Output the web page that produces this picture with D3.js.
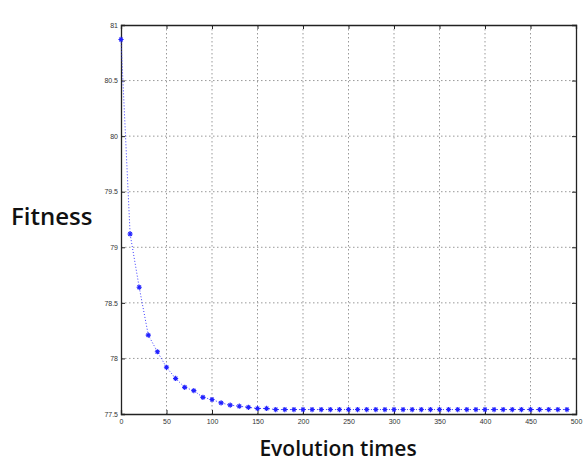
<!DOCTYPE html>
<html>
<head>
<meta charset="utf-8">
<script src="https://cdn.jsdelivr.net/npm/d3@7"></script>
<style>
  html, body { margin: 0; padding: 0; background: #fff; }
  svg { display: block; }
</style>
</head>
<body>
<svg id="chart" width="583" height="461"></svg>
<script>
// ---- data ----
const generations = [0,10,20,30,40,50,60,70,80,90,100,110,120,130,140,150,160,170,180,190,
  200,210,220,230,240,250,260,270,280,290,300,310,320,330,340,350,360,370,380,390,
  400,410,420,430,440,450,460,470,480,490];
const fitness = [80.87,79.12,78.64,78.21,78.06,77.92,77.82,77.74,77.71,77.65,77.63,77.60,77.58,77.57,77.56,
  77.55,77.55,77.54,77.54,77.54,77.54,77.54,77.54,77.54,77.54,77.54,77.54,77.54,77.54,77.54,
  77.54,77.54,77.54,77.54,77.54,77.54,77.54,77.54,77.54,77.54,77.54,77.54,77.54,77.54,77.54,
  77.54,77.54,77.54,77.54,77.54];
const xTicks = [0,50,100,150,200,250,300,350,400,450,500];
const yTicks = [77.5,78,78.5,79,79.5,80,80.5,81];
const xTitle = "Evolution times";
const yTitle = "Fitness";

// ---- layout ----
const svg = d3.select("#chart");
const L = 121, R = 576, T = 25, B = 414;
const x = d3.scaleLinear().domain([0, 500]).range([L, R]);
const y = d3.scaleLinear().domain([77.5, 81]).range([B, T]);

// grid
const g = svg.append("g");
g.selectAll(".gx").data(xTicks.slice(1, -1)).enter().append("line")
  .attr("x1", d => x(d)).attr("x2", d => x(d)).attr("y1", T).attr("y2", B)
  .attr("stroke", "#999").attr("stroke-width", 1).attr("stroke-dasharray", "1.5,2.5");
g.selectAll(".gy").data(yTicks.slice(1, -1)).enter().append("line")
  .attr("x1", L).attr("x2", R).attr("y1", d => y(d)).attr("y2", d => y(d))
  .attr("stroke", "#999").attr("stroke-width", 1).attr("stroke-dasharray", "1.5,2.5");

// axes
const xAxis = d3.axisBottom(x).tickValues(xTicks).tickSize(-4).tickPadding(5).tickFormat(d3.format("d"));
const yAxis = d3.axisLeft(y).tickValues(yTicks).tickSize(-4).tickPadding(3).tickFormat(d => String(d));
const xa = svg.append("g").attr("transform", `translate(0,${B})`).call(xAxis);
const ya = svg.append("g").attr("transform", `translate(${L},0)`).call(yAxis);
const xTop = svg.append("g").attr("transform", `translate(0,${T})`)
  .call(d3.axisTop(x).tickValues(xTicks).tickSize(-4).tickFormat(""));
const yRight = svg.append("g").attr("transform", `translate(${R},0)`)
  .call(d3.axisRight(y).tickValues(yTicks).tickSize(-4).tickFormat(""));
[xa, ya, xTop, yRight].forEach(a => {
  a.select(".domain").attr("stroke", "#222").attr("stroke-width", 1.3);
  a.selectAll(".tick line").attr("stroke", "#222");
  a.selectAll("text").attr("font-family", "Liberation Sans, Arial, sans-serif")
    .attr("font-size", 7).attr("fill", "#333");
});

// line
const line = d3.line().x((d, i) => x(generations[i])).y(d => y(d));
svg.append("path").datum(fitness).attr("d", line)
  .attr("fill", "none").attr("stroke", "#3a3aff").attr("stroke-width", 1)
  .attr("stroke-dasharray", "1,2");

// asterisk markers
const s = 2.6;
svg.selectAll(".m").data(fitness).enter().append("path")
  .attr("transform", (d, i) => `translate(${x(generations[i])},${y(d)})`)
  .attr("d", `M${-s},0H${s}M0,${-s}V${s}M${-s*0.7},${-s*0.7}L${s*0.7},${s*0.7}M${-s*0.7},${s*0.7}L${s*0.7},${-s*0.7}`)
  .attr("stroke", "#2222ff").attr("stroke-width", 1.1).attr("fill", "none");

// titles
svg.append("text").attr("x", 11).attr("y", 225).text(yTitle)
  .attr("font-family", "Open Sans, sans-serif").attr("font-weight", 600)
  .attr("font-size", 24).attr("fill", "#111");
svg.append("text").attr("x", 338).attr("y", 456).attr("text-anchor", "middle").text(xTitle)
  .attr("font-family", "Open Sans, sans-serif").attr("font-weight", 600)
  .attr("font-size", 21).attr("fill", "#111");
</script>
</body>
</html>
